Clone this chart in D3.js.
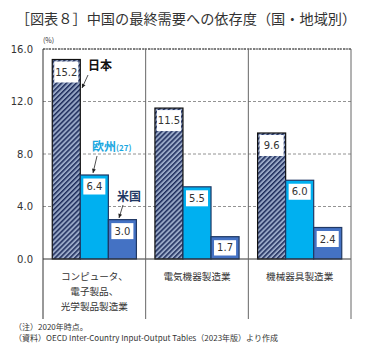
<!DOCTYPE html>
<html><head><meta charset="utf-8">
<script src="https://cdn.jsdelivr.net/npm/d3@7"></script>
<style>body{margin:0;background:#fff}svg{display:block}</style>
</head><body>
<script>
const categories = ["コンピュータ、電子製品、光学製品製造業", "電気機器製造業", "機械器具製造業"];
const categoryLines = [["コンピュータ、", "電子製品、", "光学製品製造業"], ["電気機器製造業"], ["機械器具製造業"]];
const seriesNames = ["日本", "欧州", "米国"];
const japan = [15.2, 11.5, 9.6];
const europe = [6.4, 5.5, 6.0];
const usa = [3.0, 1.7, 2.4];
const yTicks = [0, 4, 8, 12, 16];

const W = 370, H = 357;
const jp = "'Noto Sans CJK JP', sans-serif";
const num = "'DejaVu Sans', Verdana, sans-serif";
const svg = d3.select("body").append("svg").attr("width", W).attr("height", H);

const defs = svg.append("defs");
const pat = defs.append("pattern").attr("id", "hatch").attr("patternUnits", "userSpaceOnUse")
  .attr("width", 3.5).attr("height", 3.5).attr("patternTransform", "rotate(45)");
pat.append("rect").attr("width", 3.5).attr("height", 3.5).attr("fill", "#6f82a8");
pat.append("rect").attr("width", 1.4).attr("height", 3.5).attr("fill", "#1f2d5c");
pat.append("rect").attr("x", 2.3).attr("width", 0.8).attr("height", 3.5).attr("fill", "#c9d4ea");

const pL = 43, pR = 351, pT = 49, pB = 259;
const y = d3.scaleLinear().domain([0, 16]).range([pB, pT]);
const x0 = d3.scaleBand().domain(categories).range([pL, pR]);
const x1 = d3.scaleBand().domain(seriesNames).range([0, x0.bandwidth()]).paddingOuter(0.33);

// title
svg.append("text").attr("x", 186).attr("y", 24).attr("text-anchor", "middle")
  .attr("font-family", jp).attr("font-size", 14.2).attr("fill", "#333")
  .text("［図表８］中国の最終需要への依存度（国・地域別）");

svg.append("text").attr("x", 43).attr("y", 43).attr("font-family", jp).attr("font-size", 7).attr("fill", "#333").text("(%)");

// gridlines
svg.append("g").selectAll("line").data(yTicks.filter(d => d > 0)).join("line")
  .attr("x1", pL).attr("x2", pR).attr("y1", d => y(d)).attr("y2", d => y(d))
  .attr("stroke", "#777").attr("stroke-width", 0.8).attr("stroke-dasharray", "3,2");

// y axis labels
const yAxis = d3.axisLeft(y).tickValues(yTicks).tickFormat(d3.format(".1f")).tickSize(0).tickPadding(10);
const ga = svg.append("g").attr("transform", `translate(${pL},0)`).call(yAxis);
ga.select(".domain").remove();
ga.selectAll("text").attr("font-family", num).attr("font-size", 10).attr("fill", "#333");

// bars
const data = categories.map((c, i) => ({ c, vals: [japan[i], europe[i], usa[i]] }));
const fills = ["url(#hatch)", "#00b0f0", "#4472c4"];
const strokes = ["#111", "#1f3864", "#1f3864"];
const g = svg.append("g");
data.forEach(d => {
  d.vals.forEach((v, j) => {
    const s = seriesNames[j];
    const bx = x0(d.c) + x1(s), bw = x1.bandwidth(), by = y(v), bh = y(0) - y(v);
    g.append("rect").attr("x", bx).attr("y", by).attr("width", bw).attr("height", bh)
      .attr("fill", fills[j]).attr("stroke", strokes[j]).attr("stroke-width", 1.2);
    const inset = j === 0 ? 2 : 3;
    const boxH = Math.min(j === 0 ? 21 : 16, bh - 7);
    const boxY = by + (j === 0 ? 2 : Math.max(3.5, (bh - boxH) / 2 - 1 > 3.5 && bh < 30 ? (bh - boxH) / 2 : 3.5));
    g.append("rect").attr("x", bx + inset).attr("y", boxY).attr("width", bw - 2 * inset).attr("height", boxH)
      .attr("fill", "#fff");
    g.append("text").attr("x", bx + bw / 2).attr("y", boxY + boxH / 2 + 3.6)
      .attr("text-anchor", "middle").attr("font-family", num).attr("font-size", 10).attr("fill", "#333")
      .text(d3.format(".1f")(v));
  });
});

// frame
const frame = svg.append("g").attr("stroke", "#333").attr("stroke-width", 1);
frame.append("line").attr("x1", pL).attr("x2", pR).attr("y1", y(0)).attr("y2", y(0));
frame.append("line").attr("x1", pL).attr("x2", pR).attr("y1", y(16)).attr("y2", y(16)).attr("stroke-dasharray", "2,1");
const divs = categories.map(c => x0(c)).concat([pR]);
frame.selectAll(".dv").data(divs).join("line").attr("x1", d => d).attr("x2", d => d)
  .attr("y1", pT).attr("y2", 319).attr("stroke", (d, i) => i === 0 ? "#333" : "#666");

// category labels
categories.forEach((c, i) => {
  categoryLines[i].forEach((t, k) => {
    svg.append("text").attr("x", x0(c) + x0.bandwidth() / 2).attr("y", 280 + k * 15)
      .attr("text-anchor", "middle").attr("font-family", jp).attr("font-size", 9.6).attr("fill", "#333").text(t);
  });
});

// annotations
function arrow(xa, ya, xb, yb) {
  svg.append("line").attr("x1", xa).attr("y1", ya).attr("x2", xb).attr("y2", yb).attr("stroke", "#222").attr("stroke-width", 0.8);
  const ang = Math.atan2(yb - ya, xb - xa), L = 4.5;
  const p = [[xb, yb], [xb - L * Math.cos(ang - 0.45), yb - L * Math.sin(ang - 0.45)], [xb - L * Math.cos(ang + 0.45), yb - L * Math.sin(ang + 0.45)]];
  svg.append("path").attr("d", "M" + p.join("L") + "Z").attr("fill", "#222");
}
svg.append("text").attr("x", 88).attr("y", 70).attr("font-family", jp).attr("font-weight", "bold").attr("font-size", 12).attr("fill", "#111").text("日本");
arrow(88, 75, 82, 88);
const eu = svg.append("text").attr("x", 92).attr("y", 151).attr("font-family", jp).attr("font-weight", "bold").attr("font-size", 12).attr("fill", "#1aa7e0");
eu.append("tspan").text("欧州");
eu.append("tspan").attr("font-size", 8).text("(27)");
arrow(97, 156, 93, 173);
svg.append("text").attr("x", 117).attr("y", 201).attr("font-family", jp).attr("font-weight", "bold").attr("font-size", 12).attr("fill", "#1f3864").text("米国");
arrow(123, 205, 119, 218);

// notes
svg.append("text").attr("x", 14).attr("y", 330).attr("font-family", jp).attr("font-size", 8).attr("fill", "#333").text("（注）2020年時点。");
svg.append("text").attr("x", 14).attr("y", 341).attr("font-family", jp).attr("font-size", 8).attr("fill", "#333").text("（資料）OECD Inter-Country Input-Output Tables（2023年版）より作成");
</script>
</body></html>
